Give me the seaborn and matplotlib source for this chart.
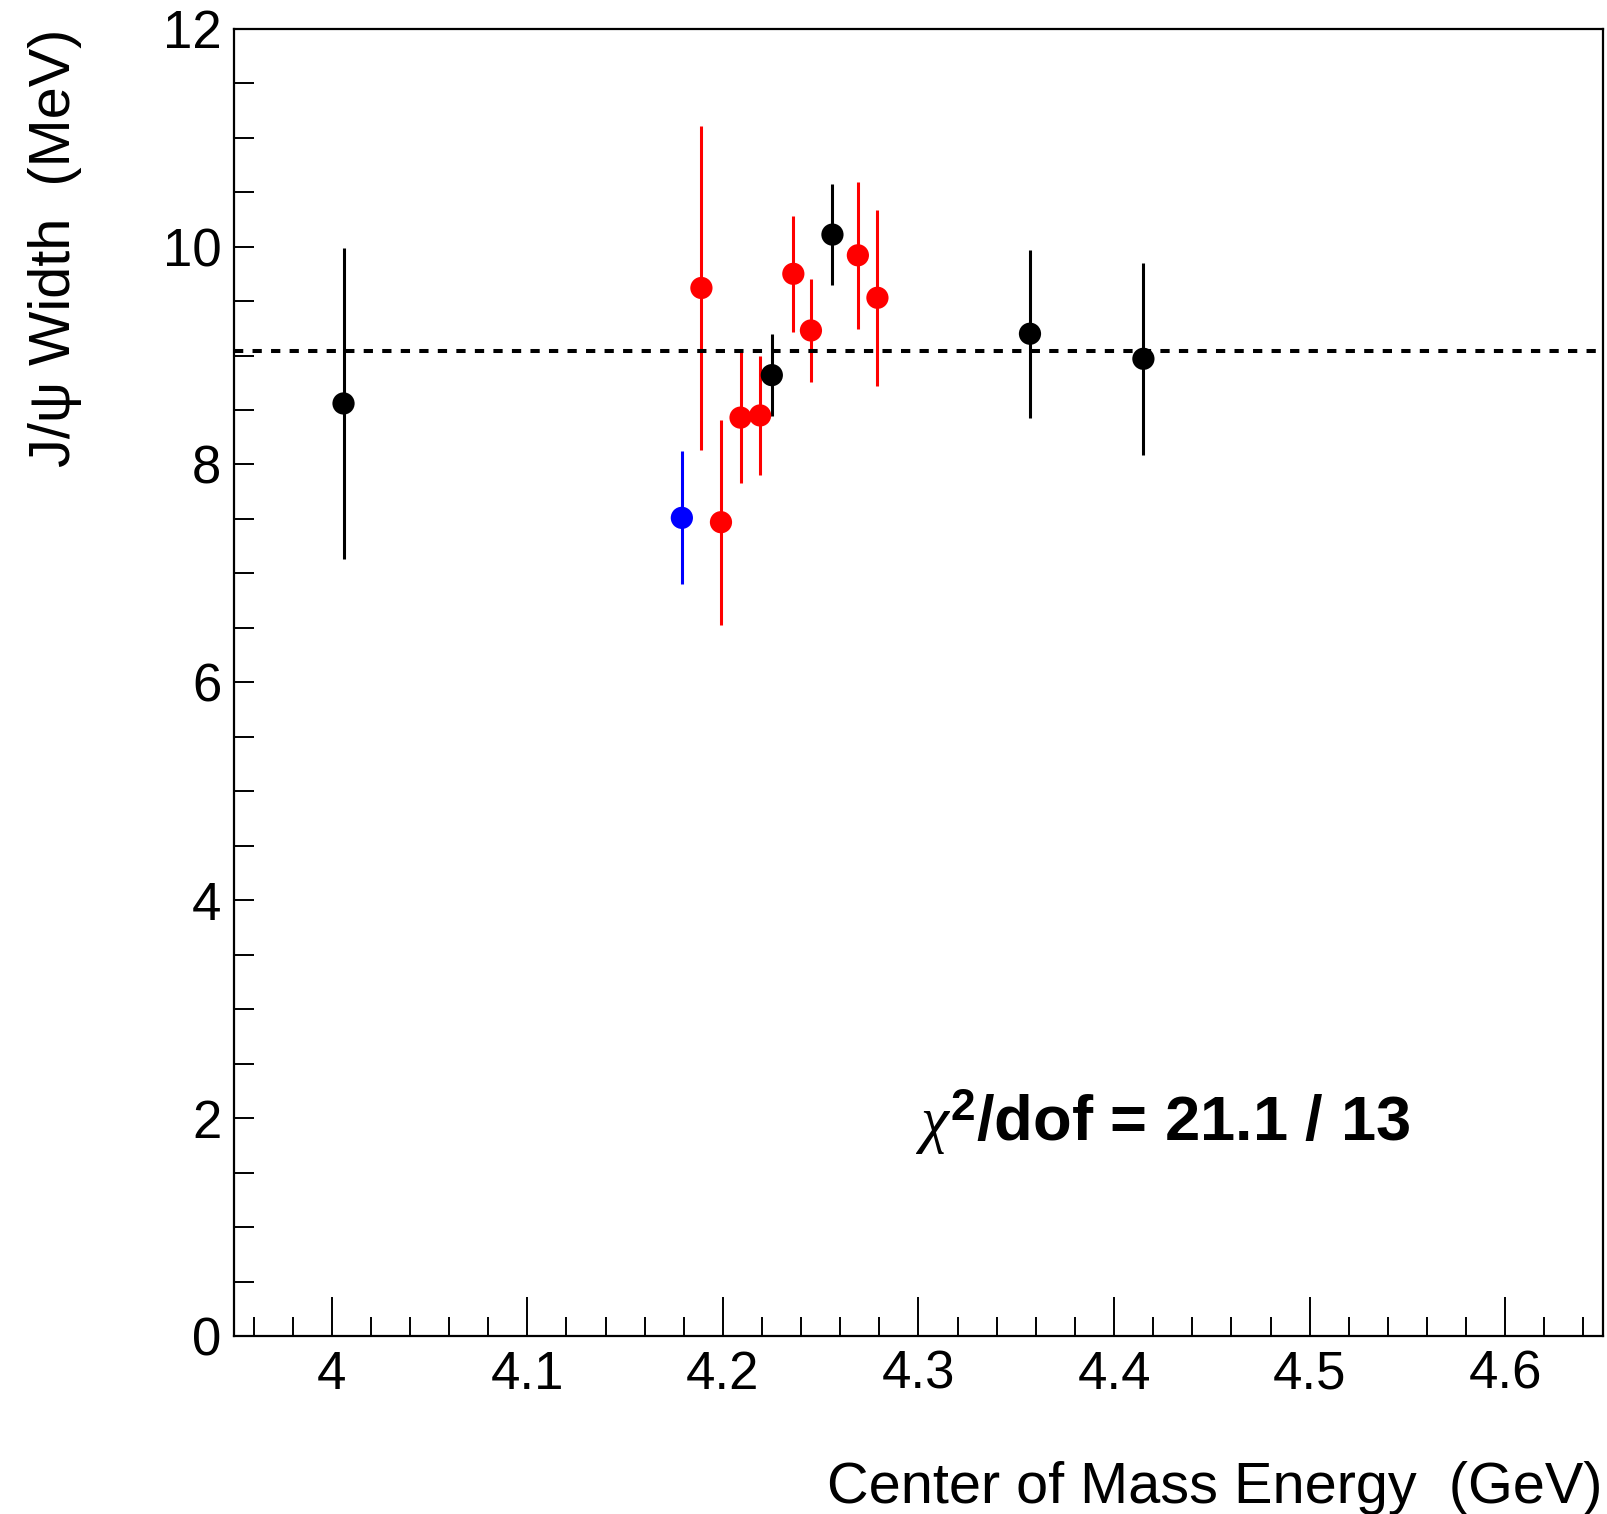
import numpy as np
import pandas as pd
import matplotlib
matplotlib.use("Agg")
import matplotlib.pyplot as plt
from matplotlib.ticker import MultipleLocator
import seaborn as sns

# ---- data ----
energy_black = [4.006, 4.225, 4.256, 4.357, 4.415]
width_black = [8.56, 8.82, 10.11, 9.20, 8.97]
err_black = [1.43, 0.375, 0.465, 0.77, 0.88]

energy_blue = [4.179]
width_blue = [7.51]
err_blue = [0.61]

energy_red = [4.189, 4.199, 4.209, 4.219, 4.236, 4.245, 4.269, 4.279]
width_red = [9.62, 7.47, 8.43, 8.45, 9.75, 9.23, 9.92, 9.53]
err_red = [1.49, 0.94, 0.60, 0.545, 0.53, 0.47, 0.675, 0.81]

fit_mean = 9.04
chi2_text = "21.1 / 13"
xlabel = "Center of Mass Energy  (GeV)"
ylabel = "J/\u03c8 Width  (MeV)"

groups = ["black", "blue", "red"]
colors = {"black": "#000000", "blue": "#0000ff", "red": "#ff0000"}

df = pd.concat([
    pd.DataFrame({"E": energy_black, "W": width_black, "err": err_black, "grp": "black"}),
    pd.DataFrame({"E": energy_blue, "W": width_blue, "err": err_blue, "grp": "blue"}),
    pd.DataFrame({"E": energy_red, "W": width_red, "err": err_red, "grp": "red"}),
], ignore_index=True)

sns.set_theme(style="ticks")
plt.rcParams["font.family"] = ["Liberation Sans", "DejaVu Sans"]
plt.rcParams["mathtext.fontset"] = "custom"
plt.rcParams["mathtext.rm"] = "Liberation Sans:bold"
plt.rcParams["mathtext.bf"] = "Liberation Sans:bold"
plt.rcParams["mathtext.it"] = "Liberation Serif:italic"
for k in ["text.color", "axes.labelcolor", "xtick.color", "ytick.color", "axes.edgecolor"]:
    plt.rcParams[k] = "black"

fig = plt.figure(figsize=(16.08, 15.14), dpi=100)
ax = fig.add_axes([234 / 1608, 1 - 1336 / 1514, (1603 - 234) / 1608, (1336 - 28.7) / 1514])

# error bars
for g in groups:
    sub = df[df.grp == g]
    ax.vlines(sub.E, sub.W - sub.err, sub.W + sub.err, colors=colors[g], lw=2.2, zorder=2)

sns.scatterplot(data=df, x="E", y="W", hue="grp", palette=colors, hue_order=groups,
                s=16 ** 2, linewidth=0, legend=False, ax=ax, zorder=3)

ax.axhline(fit_mean, color="black", lw=2.9, linestyle=(0, (2.3, 2.3)), zorder=4)

ax.set_xlim(3.95, 4.65)
ax.set_ylim(0, 12)
ax.xaxis.set_major_locator(MultipleLocator(0.1))
ax.xaxis.set_minor_locator(MultipleLocator(0.02))
ax.yaxis.set_major_locator(MultipleLocator(2))
ax.yaxis.set_minor_locator(MultipleLocator(0.5))
ax.xaxis.set_major_formatter(matplotlib.ticker.FuncFormatter(lambda v, p: f"{v:g}"))

ax.tick_params(axis="x", which="major", direction="in", length=28, width=1.4,
               labelsize=38, pad=10, top=False, colors="black")
ax.tick_params(axis="x", which="minor", direction="in", length=14, width=1.4, top=False,
               colors="black")
ax.tick_params(axis="y", which="both", direction="in", length=14.5, width=1.4,
               labelsize=38, pad=9, right=False, colors="black")
for s in ax.spines.values():
    s.set_linewidth(1.6)
    s.set_color("black")

ax.set_xlabel(xlabel, fontsize=41.5, loc="right", labelpad=44, color="black")
ax.set_ylabel(ylabel, fontsize=41.5, loc="top", labelpad=58, color="black")

ax.text(4.298, 1.79, r"$\mathit{\chi}^{\mathbf{2}}$/dof = " + chi2_text,
        fontsize=45.5, fontweight="bold", ha="left", va="baseline", color="black")

fig.savefig("out.png", dpi=100)
